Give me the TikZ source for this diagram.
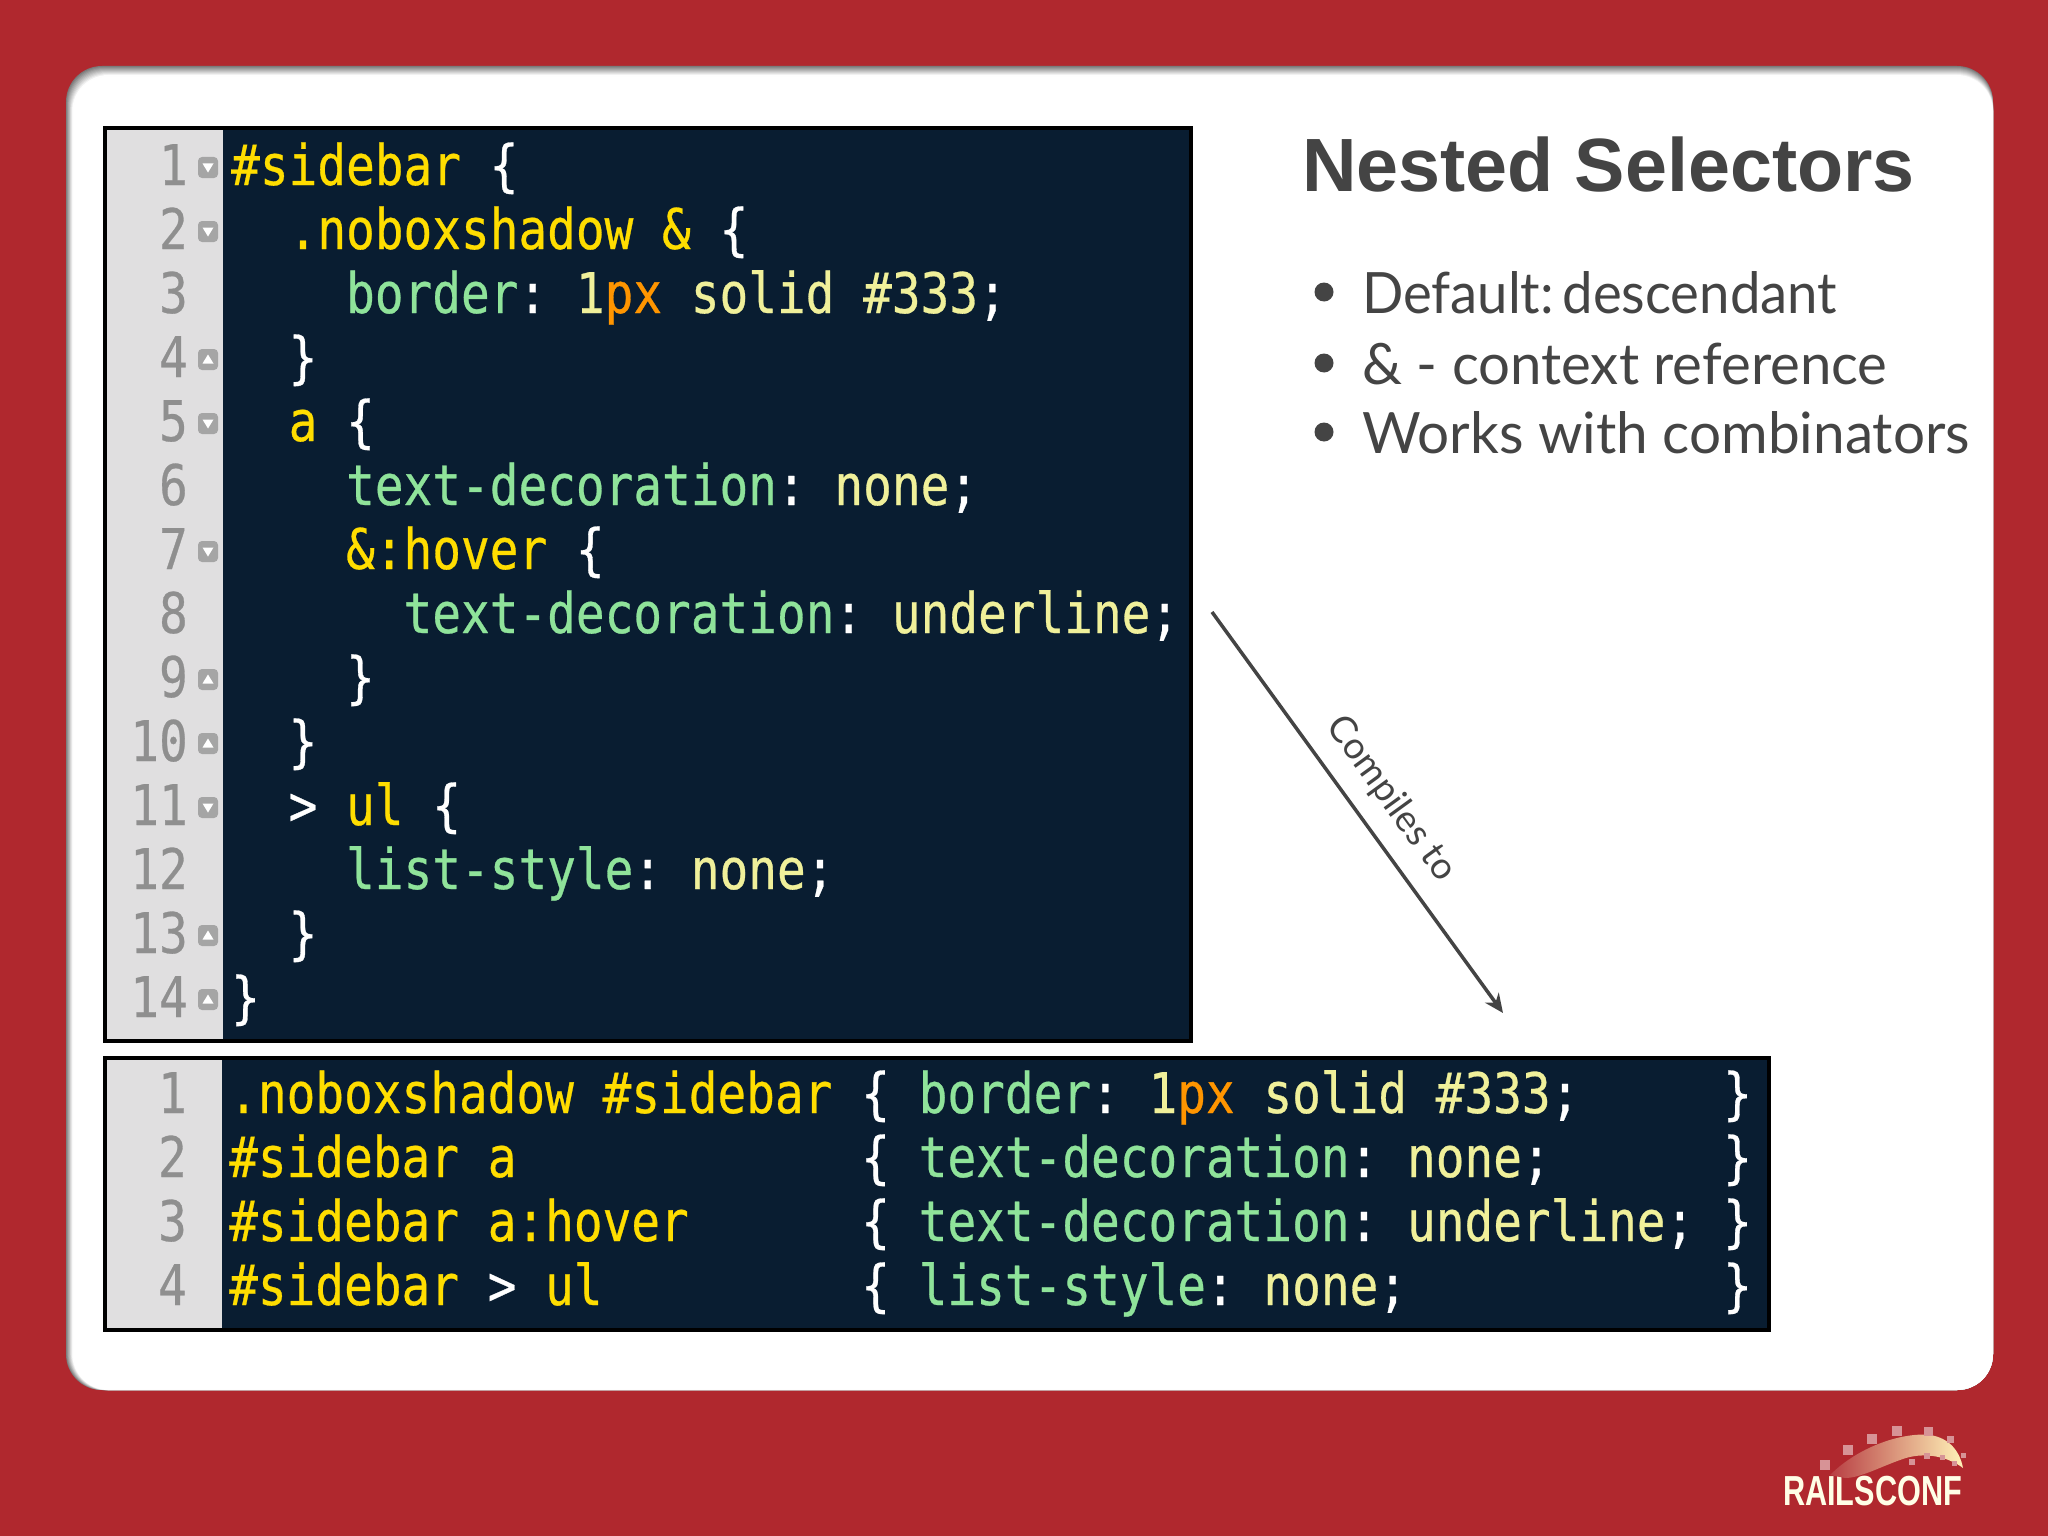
\documentclass[tikz,border=0pt]{standalone}
\usepackage{fontspec}
\setmainfont{Lato}
\newfontfamily\codefont[FakeStretch=0.852,FakeBold=0.5]{DejaVu Sans Mono}
\newfontfamily\titlefont{Liberation Sans}
\usetikzlibrary{arrows.meta}
\definecolor{slidered}{HTML}{B0282E}
\definecolor{navy}{HTML}{091D31}
\definecolor{guttergray}{HTML}{E0DFE0}
\definecolor{numgray}{HTML}{8F8F8F}
\definecolor{inkgray}{HTML}{444444}
\definecolor{selyellow}{HTML}{FFDD00}
\definecolor{propgreen}{HTML}{8FE39A}
\definecolor{valyellow}{HTML}{F0F09A}
\definecolor{unitorange}{HTML}{FF9500}
\newcommand{\kw}[1]{\textcolor{selyellow}{#1}}
\newcommand{\pr}[1]{\textcolor{propgreen}{#1}}
\newcommand{\va}[1]{\textcolor{valyellow}{#1}}
\newcommand{\un}[1]{\textcolor{unitorange}{#1}}
\tikzset{
	codeline/.style={anchor=base west,inner sep=0pt,text=white,font=\codefont\fontsize{56}{64}\selectfont},
	gutternum/.style={anchor=base east,inner sep=0pt,text=numgray,font=\codefont\fontsize{56}{64}\selectfont},
	codebox/.style={draw=black,line width=4pt,fill=navy},
	bullettext/.style={anchor=base west,inner sep=0pt,text=inkgray,transform shape,font=\fontsize{57}{64}\selectfont},
	bulletdot/.style={circle,fill=inkgray,inner sep=0pt,minimum size=19pt},
}
\begin{document}
\frenchspacing
\begin{tikzpicture}[x=1pt,y=-1pt,>=Stealth]
	\useasboundingbox (0,0) rectangle (2048,1536);
	\fill[slidered] (0,0) rectangle (2048,1536);
	% panel, soft shadow on top and left
	\foreach \i in {0,...,9}{
			\pgfmathsetmacro{\tone}{35+\i*7.2}
			\fill[white!\tone!black!80!white,rounded corners=36pt] ({66+\i*.7},{66+\i}) rectangle (1993,1390);
	}
	\fill[white,rounded corners=32pt] (74,77) rectangle (1992,1389);

	% first listing
	\draw[codebox] (105,128) rectangle (1191,1041);
	\fill[guttergray] (107,130) rectangle (223,1039);
	\foreach \n in {1,...,14}{
			\node[gutternum] (numa\n) at (188,{185+(\n-1)*64}) {\n};
	}
	\foreach \n/\c/\t in {
			1/0/{\kw{\#sidebar} \{},
			2/2/{\kw{.noboxshadow \&} \{},
			3/4/{\pr{border}: \va{1}\un{px} \va{solid} \va{\#333};},
			4/2/{\}},
			5/2/{\kw{a} \{},
			6/4/{\pr{text-decoration}: \va{none};},
			7/4/{\kw{\&:hover} \{},
			8/6/{\pr{text-decoration}: \va{underline};},
			9/4/{\}},
			10/2/{\}},
			11/2/{> \kw{ul} \{},
			12/4/{\pr{list-style}: \va{none};},
			13/2/{\}},
			14/0/{\}}}{
			\node[codeline] (linea\n) at ({231+\c*28.73},{185+(\n-1)*64}) {\t};
	}
	% fold marks
	\foreach \n/\d in {1/1,2/1,4/-1,5/1,7/1,9/-1,10/-1,11/1,13/-1,14/-1}{
			\fill[numgray!80!white,rounded corners=4pt] (198,{157+(\n-1)*64}) rectangle (218,{178+(\n-1)*64});
			\fill[white] ({202.5},{167.5+(\n-1)*64-\d*4}) -- (213.5,{167.5+(\n-1)*64-\d*4}) -- (208,{167.5+(\n-1)*64+\d*5}) -- cycle;
	}

	% second listing
	\draw[codebox] (105,1058) rectangle (1769,1330);
	\fill[guttergray] (107,1060) rectangle (222,1328);
	\foreach \n in {1,...,4}{
			\node[gutternum] (numb\n) at (187,{1113+(\n-1)*64}) {\n};
			\node[codeline] (openb\n) at ({229+22*28.73},{1113+(\n-1)*64}) {\{};
			\node[codeline] (closeb\n) at ({229+52*28.73},{1113+(\n-1)*64}) {\}};
	}
	\foreach \n/\s/\t in {
			1/{.noboxshadow \#sidebar}/{\pr{border}: \va{1}\un{px} \va{solid} \va{\#333};},
			2/{\#sidebar a}/{\pr{text-decoration}: \va{none};},
			3/{\#sidebar a:hover}/{\pr{text-decoration}: \va{underline};},
			4/{\#sidebar \textcolor{white}{>} ul}/{\pr{list-style}: \va{none};}}{
			\node[codeline] (selb\n) at (229,{1113+(\n-1)*64}) {\kw{\s}};
			\node[codeline] (declb\n) at ({229+24*28.73},{1113+(\n-1)*64}) {\t};
	}

	% right column
	\node[anchor=base west,inner sep=0pt,text=inkgray,font=\titlefont\bfseries\fontsize{75.5}{90}\selectfont] (title) at (1302,191) {Nested Selectors};
	\foreach \n/\y/\w/\t in {1/313/.955/{Default:\hspace{-.1em} descendant},2/384/.988/{\& - context reference},3/453/.994/{Works with combinators}}{
			\node[bulletdot] (dot\n) at (1324,{\y-21}) {};
			\node[bullettext,xscale=\w] (item\n) at (1362,\y) {\t};
	}

	% compile arrow
	\coordinate (from) at (1212,612);
	\coordinate (to) at (1503,1013);
	\draw[-{Stealth[length=19pt,width=17pt]},inkgray,line width=3.5pt] (from) -- (to);
	\node[rotate=-54,text=inkgray,inner sep=0pt,font=\fontsize{37}{40}\selectfont] (compiles) at (1391,799) {Compiles to};

	% logo
	\node[anchor=base west,inner sep=0pt,xscale=.73,transform shape,text=white!90!yellow,font=\titlefont\bfseries\fontsize{42}{44}\selectfont] (logo) at (1783,1505) {RAILSCONF};
	\shade[left color=slidered!90!white,right color=white!80!yellow!90!orange] (1830,1475) .. controls (1860,1445) and (1905,1432) .. (1930,1435) .. controls (1950,1438) and (1960,1452) .. (1963,1468) .. controls (1950,1458) and (1925,1450) .. (1900,1460) .. controls (1880,1467) and (1860,1478) .. (1845,1478) -- cycle;
	\foreach \x/\y/\s in {1825/1465/5,1848/1450/5,1872/1439/5,1897/1431/5,1928/1431/4.5,1950/1439/3.5,1963/1455/2.5,1912/1462/3,1927/1456/3,1942/1457/2.5,1954/1463/2.5}{
			\fill[white!50!slidered] ({\x-\s},{\y-\s}) rectangle ({\x+\s},{\y+\s});
	}
\end{tikzpicture}
\end{document}
